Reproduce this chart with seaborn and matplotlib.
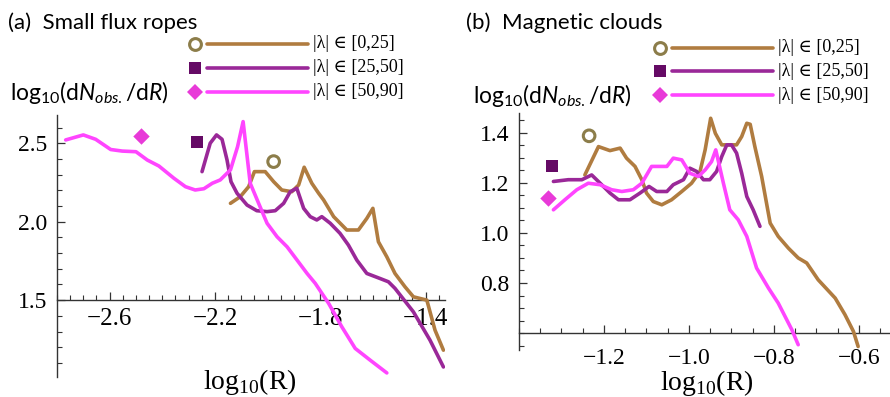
import numpy as np
import pandas as pd
import matplotlib
matplotlib.use("Agg")
import matplotlib.pyplot as plt
import seaborn as sns
from matplotlib.lines import Line2D
from matplotlib.ticker import MultipleLocator, FixedLocator

sns.set_theme(style="white")
plt.rcParams["font.family"] = ["Liberation Serif", "DejaVu Serif"]
plt.rcParams["mathtext.fontset"] = "custom"
plt.rcParams["mathtext.rm"] = "Liberation Serif"
plt.rcParams["mathtext.sf"] = "Lato"
plt.rcParams["mathtext.it"] = "Lato:italic"

# ---------------- data ----------------
groups = ["|λ| ∈ [0,25]", "|λ| ∈ [25,50]", "|λ| ∈ [50,90]"]
line_colors = ["#B07C40", "#9A2898", "#FF45FF"]
marker_colors = ["#8C7D4A", "#650A65", "#E83AD8"]
marker_shapes = ["o", "s", "D"]

# (a) Small flux ropes
a_x_0_25 = [-2.141, -2.104, -2.072, -2.05, -2.009, -1.977, -1.946, -1.908, -1.882, -1.861, -1.832, -1.806, -1.787,
            -1.749, -1.699, -1.655, -1.623, -1.600, -1.579, -1.547, -1.516, -1.478, -1.446, -1.395, -1.364, -1.332]
a_y_0_25 = [2.117, 2.159, 2.223, 2.319, 2.319, 2.255, 2.202, 2.191, 2.234, 2.347, 2.245, 2.181, 2.138,
            2.032, 1.947, 1.947, 2.021, 2.085, 1.872, 1.776, 1.67, 1.585, 1.521, 1.50, 1.309, 1.181]
a_x_25_50 = [-2.249, -2.218, -2.194, -2.173, -2.154, -2.139, -2.116, -2.078, -2.041, -2.002, -1.971, -1.939, -1.914,
             -1.889, -1.863, -1.838, -1.813, -1.794, -1.762, -1.725, -1.693, -1.661, -1.623, -1.573, -1.541, -1.516,
             -1.446, -1.383, -1.332]
a_y_25_50 = [2.319, 2.50, 2.553, 2.525, 2.393, 2.255, 2.181, 2.106, 2.07, 2.064, 2.07, 2.117, 2.191,
             2.213, 2.085, 2.032, 2.011, 2.032, 1.99, 1.926, 1.851, 1.755, 1.67, 1.638, 1.617, 1.575,
             1.425, 1.245, 1.074]
a_x_50_90 = [-2.767, -2.70, -2.653, -2.596, -2.552, -2.50, -2.457, -2.413, -2.356, -2.312, -2.275, -2.242, -2.21,
             -2.18, -2.141, -2.114, -2.093, -2.066, -2.034, -2.002, -1.964, -1.926, -1.888, -1.85, -1.819, -1.768,
             -1.718, -1.667, -1.61, -1.547]
a_y_50_90 = [2.521, 2.553, 2.525, 2.46, 2.45, 2.446, 2.393, 2.355, 2.277, 2.223, 2.202, 2.21, 2.245,
             2.266, 2.33, 2.478, 2.638, 2.245, 2.117, 1.99, 1.904, 1.84, 1.755, 1.67, 1.607, 1.479,
             1.33, 1.192, 1.117, 1.036]
a_mark_x = [-1.977, -2.268, -2.48]
a_mark_y = [2.383, 2.506, 2.549]

# (b) Magnetic clouds
b_x_0_25 = [-1.245, -1.213, -1.186, -1.162, -1.147, -1.127, -1.111, -1.10, -1.084, -1.064, -1.041, -1.017, -0.994,
            -0.974, -0.962, -0.949, -0.938, -0.923, -0.904, -0.888, -0.876, -0.864, -0.856, -0.845, -0.829, -0.809,
            -0.79, -0.766, -0.743, -0.723, -0.696, -0.656, -0.633, -0.613, -0.602]
b_y_0_25 = [1.231, 1.344, 1.328, 1.338, 1.298, 1.265, 1.212, 1.159, 1.125, 1.112, 1.132, 1.165, 1.198,
            1.245, 1.331, 1.457, 1.397, 1.351, 1.351, 1.351, 1.384, 1.437, 1.433, 1.344, 1.225, 1.039,
            0.986, 0.939, 0.90, 0.88, 0.813, 0.74, 0.674, 0.607, 0.547]
b_x_25_50 = [-1.319, -1.284, -1.252, -1.229, -1.209, -1.186, -1.166, -1.139, -1.115, -1.094, -1.076, -1.052, -1.037,
             -1.013, -0.998, -0.982, -0.966, -0.951, -0.935, -0.923, -0.911, -0.90, -0.888, -0.876, -0.864, -0.849,
             -0.833]
b_y_25_50 = [1.205, 1.212, 1.212, 1.231, 1.198, 1.159, 1.132, 1.132, 1.159, 1.185, 1.165, 1.165, 1.192,
             1.212, 1.258, 1.245, 1.212, 1.212, 1.245, 1.304, 1.351, 1.351, 1.318, 1.238, 1.145, 1.092,
             1.026]
b_x_50_90 = [-1.319, -1.292, -1.264, -1.237, -1.209, -1.182, -1.158, -1.131, -1.111, -1.088, -1.068, -1.052, -1.037,
             -1.017, -0.998, -0.978, -0.962, -0.947, -0.937, -0.919, -0.904, -0.884, -0.864, -0.841, -0.813, -0.79,
             -0.758, -0.743]
b_y_50_90 = [1.092, 1.132, 1.172, 1.198, 1.192, 1.172, 1.165, 1.172, 1.198, 1.265, 1.265, 1.265, 1.298,
             1.291, 1.238, 1.225, 1.251, 1.284, 1.331, 1.198, 1.092, 1.052, 0.986, 0.86, 0.78, 0.72,
             0.614, 0.554]
b_mark_x = [-1.235, -1.322, -1.331]
b_mark_y = [1.387, 1.265, 1.139]

a_xticks = [-2.6, -2.2, -1.8, -1.4]
a_yticks = [1.5, 2.0, 2.5]
b_xticks = [-1.2, -1.0, -0.8, -0.6]
b_yticks = [0.8, 1.0, 1.2, 1.4]


def long_df(xs, ys):
    frames = []
    for g, x, y in zip(groups, xs, ys):
        frames.append(pd.DataFrame({"x": x, "y": y, "group": g, "order": np.arange(len(x))}))
    return pd.concat(frames, ignore_index=True)


df_a = long_df([a_x_0_25, a_x_25_50, a_x_50_90], [a_y_0_25, a_y_25_50, a_y_50_90])
df_b = long_df([b_x_0_25, b_x_25_50, b_x_50_90], [b_y_0_25, b_y_25_50, b_y_50_90])
mk_a = pd.DataFrame({"x": a_mark_x, "y": a_mark_y, "group": groups})
mk_b = pd.DataFrame({"x": b_mark_x, "y": b_mark_y, "group": groups})

W, H = 890, 397
fig = plt.figure(figsize=(W / 100, H / 100), dpi=100)
fig.patch.set_facecolor("white")


def px_axes(l, t, r, b):
    return fig.add_axes([l / W, 1 - b / H, (r - l) / W, (b - t) / H])


ax_a = px_axes(57, 115, 445, 377)
ax_b = px_axes(519, 113, 890, 350)

palette = dict(zip(groups, line_colors))
mpal = dict(zip(groups, marker_colors))


def draw(ax, df, mk, xlim, ylim, xcross, ycross, xticks, yticks, xminor, yminor, xpad, xlabsize):
    ax.set_facecolor("white")
    sns.lineplot(data=df, x="x", y="y", hue="group", palette=palette, sort=False,
                 estimator=None, units="group", lw=2.6, legend=False, ax=ax, zorder=3)
    for g, m in zip(groups, marker_shapes):
        sub = mk[mk["group"] == g]
        if m == "o":
            sns.scatterplot(data=sub, x="x", y="y", marker="o", s=70, facecolor="none",
                            edgecolor=mpal[g], linewidth=2.2, ax=ax, legend=False, zorder=4)
        elif m == "s":
            sns.scatterplot(data=sub, x="x", y="y", marker="s", s=80, color=mpal[g],
                            edgecolor=mpal[g], linewidth=0, ax=ax, legend=False, zorder=4)
        else:
            sns.scatterplot(data=sub, x="x", y="y", marker="D", s=70, color=mpal[g],
                            edgecolor=mpal[g], linewidth=0, ax=ax, legend=False, zorder=4)
    ax.set_xlim(*xlim)
    ax.set_ylim(*ylim)
    for s in ["top", "right"]:
        ax.spines[s].set_visible(False)
    ax.spines["left"].set_position(("data", xcross))
    ax.spines["bottom"].set_position(("data", ycross))
    for s in ["left", "bottom"]:
        ax.spines[s].set_color("#333333")
        ax.spines[s].set_linewidth(1.0)
    ax.xaxis.set_major_locator(FixedLocator(xticks))
    ax.yaxis.set_major_locator(FixedLocator(yticks))
    ax.xaxis.set_minor_locator(MultipleLocator(xminor))
    ax.yaxis.set_minor_locator(MultipleLocator(yminor))
    ax.set_xticklabels([f"{t:.1f}".replace("-", "\u2212") for t in xticks])
    ax.set_yticklabels([f"{t:.1f}" for t in yticks])
    ax.tick_params(axis="both", which="major", direction="in", length=6, width=0.9,
                   color="#333333", labelsize=17, labelcolor="black")
    ax.tick_params(axis="both", which="minor", direction="in", length=3.5, width=0.8,
                   color="#333333")
    ax.tick_params(axis="x", which="both", bottom=True, top=False, pad=xpad, labelsize=xlabsize)
    ax.tick_params(axis="y", which="both", left=True, right=False, pad=7)
    ax.set_xlabel("")
    ax.set_ylabel("")
    ax.grid(False)


draw(ax_a, df_a, mk_a, (-2.8, -1.326), (1.01, 2.68), -2.8, 1.5,
     a_xticks, a_yticks, 0.05, 0.1, 6, 18)
draw(ax_b, df_b, mk_b, (-1.4, -0.527), (0.533, 1.478), -1.4, 0.6,
     b_xticks, b_yticks, 0.05, 0.05, 10.5, 17)

# titles and axis labels
sans = ["Lato", "DejaVu Sans"]
fig.text(8 / W, 1 - 29 / H, "(a)  Small flux ropes", family=sans, fontsize=16, color="black")
fig.text(466 / W, 1 - 29 / H, "(b)  Magnetic clouds", family=sans, fontsize=16, color="black")
ylab = r"$\mathsf{log}_{\mathsf{10}}\mathsf{(d}\mathit{N}_{\mathit{obs.}}\mathsf{/d}\mathit{R}\mathsf{)}$"
fig.text(10 / W, 1 - 100 / H, ylab, fontsize=16.5, color="black")
fig.text(473 / W, 1 - 103 / H, ylab, fontsize=16.5, color="black")
xlab = r"$\mathrm{log}_{\mathrm{10}}\mathrm{(R)}$"
fig.text(250 / W, 1 - 389 / H, xlab, fontsize=20, ha="center", color="black")
fig.text(707 / W, 1 - 390 / H, xlab, fontsize=20, ha="center", color="black")

# legends (drawn as figure decorations)
def legend(x_marker, x_l0, x_l1, x_text, rows):
    for g, yrow, lc, mc, m in zip(groups, rows, line_colors, marker_colors, marker_shapes):
        yy = 1 - yrow / H
        fig.add_artist(Line2D([x_l0 / W, x_l1 / W], [yy, yy], color=lc, lw=2.6,
                              transform=fig.transFigure))
        if m == "o":
            fig.add_artist(Line2D([x_marker / W], [yy], marker="o", ms=8.5, mfc="none", mec=mc, mew=2.2,
                                  transform=fig.transFigure))
        elif m == "s":
            fig.add_artist(Line2D([x_marker / W], [yy], marker="s", ms=9, mfc=mc, mec=mc, mew=0,
                                  transform=fig.transFigure))
        else:
            fig.add_artist(Line2D([x_marker / W], [yy], marker="D", ms=8.4, mfc=mc, mec=mc, mew=0,
                                  transform=fig.transFigure))
        fig.text(x_text / W, yy, g, fontsize=13, va="center", color="black",
                 family=["Liberation Serif", "DejaVu Serif"])


legend(195, 207, 308, 313, [44, 68, 92])
legend(660, 672, 773, 778, [48, 71, 95])

fig.savefig("out.png", dpi=100, facecolor="white")
